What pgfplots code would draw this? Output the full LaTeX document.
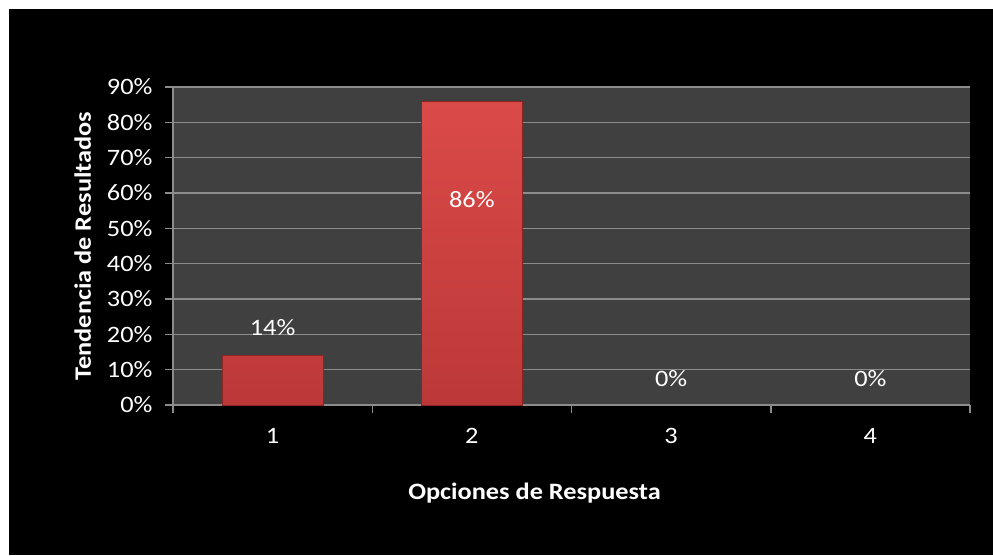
\documentclass[border=0pt]{standalone}
\usepackage{pgfplots}
\pgfplotsset{compat=1.18}
\usepackage{fontspec}
\setmainfont{Carlito}[FakeStretch=1.12]
\definecolor{plotbg}{RGB}{64,64,64}
\definecolor{gridc}{RGB}{140,140,140}
\definecolor{bartop}{RGB}{218,74,72}
\definecolor{barbot}{RGB}{188,56,56}
\definecolor{bardark}{RGB}{140,36,36}
\begin{document}
\begin{tikzpicture}[x=1pt,y=1pt]
\fill[white] (0,0) rectangle (993,-555);
\fill[black] (9,-9) rectangle (993,-555);
\begin{axis}[
  at={(173pt,-405pt)}, anchor=south west,
  scale only axis, width=797pt, height=318pt,
  xmin=0.5, xmax=4.5, ymin=0, ymax=90,
  axis background/.style={fill=plotbg},
  axis line style={gridc, line width=1.5pt},
  axis x line*=bottom, axis y line*=left,
  xtick={1,2,3,4}, xticklabels={1,2,3,4},
  minor xtick={0.5,1.5,2.5,3.5,4.5},
  ytick={0,10,...,90},
  yticklabel={\pgfmathprintnumber{\tick}\%},
  /pgf/number format/assume math mode=true,
  ymajorgrids, grid style={gridc, line width=1.5pt},
  major x tick style={draw=none},
  minor x tick style={gridc, line width=1.5pt},
  minor tick length=8pt,
  major y tick style={gridc, line width=1.5pt},
  major tick length=8pt,
  tick align=outside,
  ticklabel style={font=\fontsize{23.5}{25}\selectfont, text=white},
  xticklabel style={yshift=-12pt},
  yticklabel style={xshift=-9pt},
  xlabel={\textbf{Opciones de Respuesta}},
  ylabel={\textbf{Tendencia de Resultados}},
  label style={font=\fontsize{23.5}{25}\selectfont, text=white},
  xlabel style={yshift=-32pt, xshift=-37pt},
  ylabel style={yshift=9pt},
  clip=false,
]
\addplot[ybar, bar width=101pt, bar shift=0pt, top color=bartop, bottom color=barbot, draw=bardark, line width=1pt]
  coordinates {(1,14) (2,86)};
\addplot[ybar, bar width=101pt, bar shift=0pt, draw=none, fill=none]
  coordinates {(3,0) (4,0)};
\node[text=white, font=\fontsize{23.5}{25}\selectfont] at (axis cs:1,21.8) {14\%};
\node[text=white, font=\fontsize{23.5}{25}\selectfont] at (axis cs:2,58.2) {86\%};
\node[text=white, font=\fontsize{23.5}{25}\selectfont] at (axis cs:3,7.6) {0\%};
\node[text=white, font=\fontsize{23.5}{25}\selectfont] at (axis cs:4,7.6) {0\%};
\end{axis}
\end{tikzpicture}
\end{document}
